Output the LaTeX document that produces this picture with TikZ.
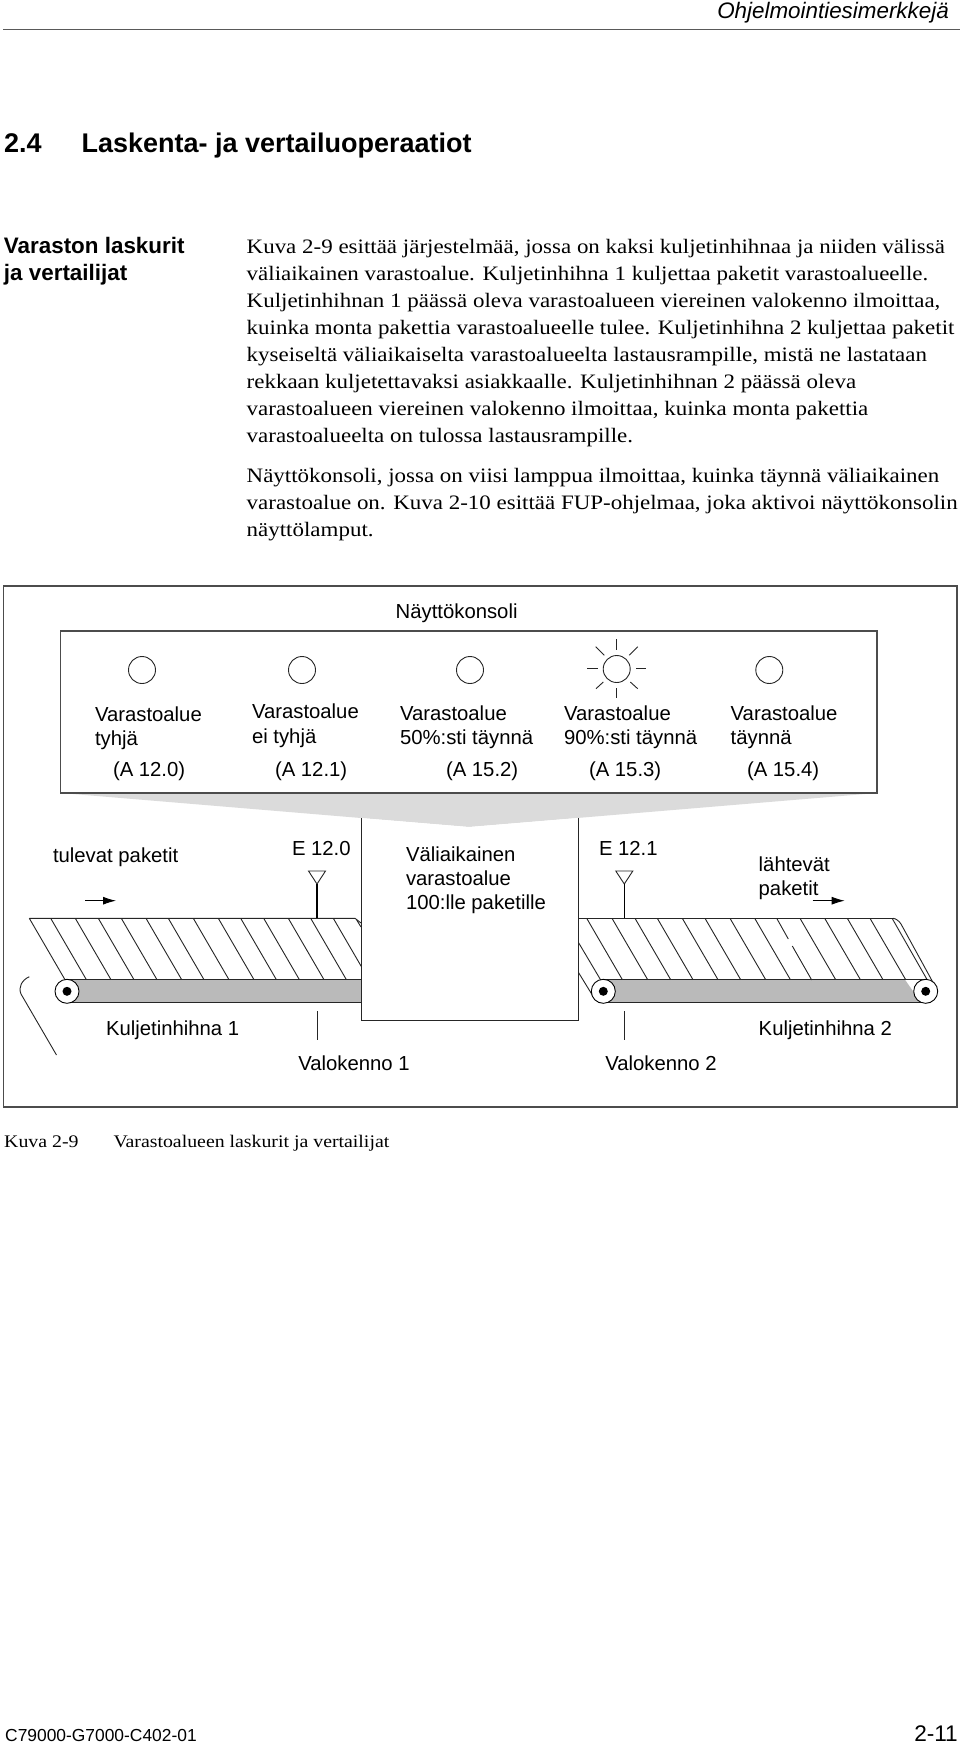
\documentclass[tikz,border=0pt]{standalone}
\usepackage{fontspec}
\setmainfont{Liberation Sans}
\newfontfamily\bodyfont[FakeStretch=1.12]{Liberation Serif}
\usetikzlibrary{arrows.meta}
\tikzset{
  x=1pt,y=-1pt,
  txt/.style={anchor=base west,inner sep=0pt,outer sep=0pt,font=\fontsize{20.3}{24}\selectfont},
  body/.style={anchor=base west,inner sep=0pt,outer sep=0pt,font=\bodyfont\fontsize{20.5}{24}\selectfont},
  head/.style={anchor=base west,inner sep=0pt,outer sep=0pt,font=\bfseries\fontsize{22.4}{26}\selectfont},
  line/.style={draw=black!85,line width=0.9pt},
  frame/.style={draw=black!70,line width=1.1pt},
  lamp/.style={circle,draw=black!85,line width=0.9pt,minimum size=27pt,inner sep=0pt,fill=white},
  roller/.style={circle,draw=black,line width=0.9pt,minimum size=24pt,inner sep=0pt,fill=white},
  hub/.style={circle,fill=black,minimum size=9pt,inner sep=0pt},
  flow/.style={draw=black,line width=0.9pt,-{Latex[length=13pt,width=8pt]}},
}
\newcommand{\hatch}[2]{\foreach \t in {#1}{\draw[line] (\t,#2) -- ++(35.7,61.4);}}
\begin{document}
\begin{tikzpicture}
\useasboundingbox (0,0) rectangle (960,1747);
\fill[white] (0,0) rectangle (960,1747);

% page header
\node[anchor=base east,inner sep=0pt,font=\itshape\fontsize{22.4}{26}\selectfont] (hdr) at (949,19) {Ohjelmointiesimerkkejä};
\draw[draw=black!65,line width=1.6pt] (3,29.5) -- (960,29.5);
\node[anchor=base west,inner sep=0pt,font=\bfseries\fontsize{27}{32}\selectfont] (secno) at (4,153) {2.4};
\node[anchor=base west,inner sep=0pt,font=\bfseries\fontsize{27}{32}\selectfont] (sectitle) at (81.4,153) {Laskenta- ja vertailuoperaatiot};
\node[head] (side1) at (4,253) {Varaston laskurit};
\node[head] (side2) at (4,280.5) {ja vertailijat};

% body text
\node[body] (b1) at (246.7,253.3) {Kuva 2-9 esittää järjestelmää, jossa on kaksi kuljetinhihnaa ja niiden välissä};
\node[body] (b2) at (246.7,280.4) {väliaikainen varastoalue. Kuljetinhihna 1 kuljettaa paketit varastoalueelle.};
\node[body] (b3) at (246.7,307.4) {Kuljetinhihnan 1 päässä oleva varastoalueen viereinen valokenno ilmoittaa,};
\node[body] (b4) at (246.7,334.4) {kuinka monta pakettia varastoalueelle tulee. Kuljetinhihna 2 kuljettaa paketit};
\node[body] (b5) at (246.7,361.5) {kyseiseltä väliaikaiselta varastoalueelta lastausrampille, mistä ne lastataan};
\node[body] (b6) at (246.7,388.5) {rekkaan kuljetettavaksi asiakkaalle. Kuljetinhihnan 2 päässä oleva};
\node[body] (b7) at (246.7,415.5) {varastoalueen viereinen valokenno ilmoittaa, kuinka monta pakettia};
\node[body] (b8) at (246.7,442) {varastoalueelta on tulossa lastausrampille.};
\node[body] (b9) at (246.7,482.5) {Näyttökonsoli, jossa on viisi lamppua ilmoittaa, kuinka täynnä väliaikainen};
\node[body] (b10) at (246.7,509.5) {varastoalue on. Kuva 2-10 esittää FUP-ohjelmaa, joka aktivoi näyttökonsolin};
\node[body] (b11) at (246.7,536.5) {näyttölamput.};

% diagram frames
\draw[frame] (3.5,586) rectangle (957,1107);
\fill[black!14] (61,793) -- (877,793) -- (469,827) -- cycle;
\draw[frame] (60.5,631) rectangle (877,793);
\node[txt] (title) at (395.7,618) {Näyttökonsoli};

% lamps
\node[lamp] (l1) at (142,670) {};
\node[lamp] (l2) at (302,670) {};
\node[lamp] (l3) at (470,670) {};
\node[lamp] (l4) at (616.7,669) {};
\node[lamp] (l5) at (769.3,670) {};
\foreach \a/\b/\c/\d in {616.7/639/616.7/650, 616.7/688/616.7/698, 587/668/598/668, 636/668/646/668,
  595.7/646.7/604.3/655.3, 637.7/646.7/629.3/655.3, 596/688.7/603.3/682, 637.7/688.7/630.3/682}
  {\draw[line] (\a,\b) -- (\c,\d);}

% lamp labels
\node[txt] (v1a) at (95,721.7) {Varastoalue};
\node[txt] (v1b) at (95,745.7) {tyhjä};
\node[txt] (v2a) at (252,718) {Varastoalue};
\node[txt] (v2b) at (252,743) {ei tyhjä};
\node[txt] (v3a) at (400,720) {Varastoalue};
\node[txt] (v3b) at (400,744) {50\%:sti täynnä};
\node[txt] (v4a) at (564,720) {Varastoalue};
\node[txt] (v4b) at (564,744) {90\%:sti täynnä};
\node[txt] (v5a) at (730.7,720) {Varastoalue};
\node[txt] (v5b) at (730.7,744) {täynnä};
\node[txt] (a1) at (113,776.7) {(A 12.0)};
\node[txt] (a2) at (275,776.7) {(A 12.1)};
\node[txt] (a3) at (446,776.7) {(A 15.2)};
\node[txt] (a4) at (589,776.7) {(A 15.3)};
\node[txt] (a5) at (747,776.7) {(A 15.4)};

% belts: grey bars
\fill[black!27] (67,979.7) rectangle (361,1002.7);
\fill[black!27] (603.3,979.7) -- (905,979.7) -- (921,1002.7) -- (603.3,1002.7) -- cycle;
\draw[line] (29.3,918.3) -- (355,918.3) -- (361,923);
\draw[line] (356.7,920) -- (361,927);
\draw[line] (578,918.3) -- (893,918.3);
\draw[line] (893,918.3) .. controls (896,918.5) and (899,921) .. (901,924) -- (933.3,983);
\draw[line] (892.5,919) -- (927.3,980);
\draw[line] (65,979.7) -- (361,979.7);
\draw[line] (65,1002.7) -- (361,1002.7);
\draw[line] (603,979.7) -- (925,979.7);
\draw[line] (603,1002.7) -- (925,1002.7);
\hatch{29.3,50.7,75.3,98.3,121.3,146,168.3,193.3,218.3,240.7,263.7,288.3,310.7,333.3}{918.3}
\hatch{586.7,612,635,657.3,682.3,705,730,754.7,800,824.7,847.3,870}{918.3}
\draw[line] (776.7,918.3) -- (788.3,939);
\draw[line] (792.3,946) -- (811.7,980);
\draw[line] (578,941.7) -- (600.7,980);
\draw[line] (578,971.7) -- (593.5,997);

% rollers
\node[roller] (r1) at (67,991.3) {};
\node[hub] (h1) at (67,991.3) {};
\node[roller] (r2) at (603.3,991.3) {};
\node[hub] (h2) at (603.3,991.3) {};
\node[roller] (r3) at (925.7,991.3) {};
\node[hub] (h3) at (925.7,991.3) {};
\draw[line] (29.3,976.7) .. controls (22,980) and (18,987) .. (21,994) -- (56.5,1055);

% storage box
\fill[white] (361,818) -- (361,1020) -- (578,1020) -- (578,818) -- (469,827) -- cycle;
\draw[line] (361,818) -- (361,1020) -- (578,1020) -- (578,818);
\node[txt] (s1) at (406,861) {Väliaikainen};
\node[txt] (s2) at (406,885) {varastoalue};
\node[txt] (s3) at (406,909) {100:lle paketille};

% sensors
\node[txt] (e1) at (292,855.7) {E 12.0};
\node[txt] (e2) at (599,855.7) {E 12.1};
\foreach \n/\x in {p/317,q/624.3}{
  \coordinate (\n t) at (\x,884);
  \coordinate (\n b) at (\x,918.3);
  \draw[line] (\x-8.5,871) -- (\x+8.5,871) -- (\n t) -- cycle;
  \draw[black,line width=1.3pt] (\n t) -- (\n b);
  \coordinate (\n u) at (\x,1011);
  \coordinate (\n d) at (\x,1040);
  \draw[line] (\n u) -- (\n d);
}

% flow labels and arrows
\node[txt] (in) at (53,862) {tulevat paketit};
\coordinate (ia) at (85,900.7);
\coordinate (ib) at (116,900.7);
\draw[flow] (ia) -- (ib);
\node[txt] (out1) at (758.7,871) {lähtevät};
\node[txt] (out2) at (758.7,895) {paketit};
\coordinate (oa) at (812.7,900.7);
\coordinate (ob) at (844.7,900.7);
\draw[flow] (oa) -- (ob);
\node[txt] (k1) at (106,1035) {Kuljetinhihna 1};
\node[txt] (k2) at (758.7,1035) {Kuljetinhihna 2};
\node[txt] (w1) at (298.3,1070) {Valokenno 1};
\node[txt] (w2) at (605.3,1070) {Valokenno 2};

% caption and footer
\node[anchor=base west,inner sep=0pt,font=\bodyfont\fontsize{17.7}{22}\selectfont] (c1) at (4,1147.5) {Kuva 2-9};
\node[anchor=base west,inner sep=0pt,font=\bodyfont\fontsize{17.7}{22}\selectfont] (c2) at (113.3,1147.5) {Varastoalueen laskurit ja vertailijat};
\node[anchor=base west,inner sep=0pt,font=\fontsize{17.4}{20}\selectfont] (f1) at (5,1741) {C79000-G7000-C402-01};
\node[anchor=base east,inner sep=0pt,font=\fontsize{22.6}{26}\selectfont] (f2) at (958,1741) {2-11};
\end{tikzpicture}
\end{document}
